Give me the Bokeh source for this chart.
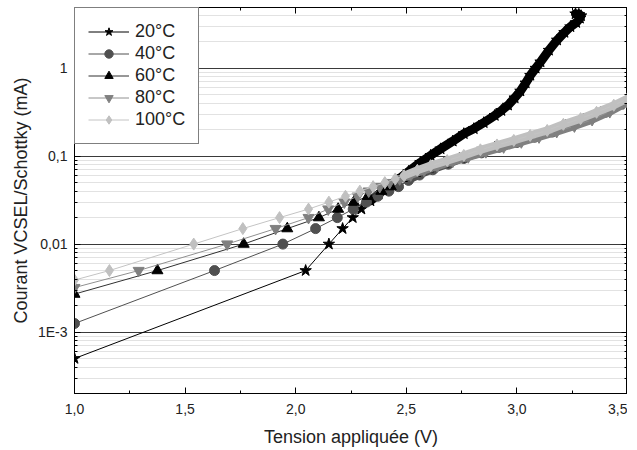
from bokeh.plotting import figure
from bokeh.models import FixedTicker, LinearAxis, LogAxis, Legend, LegendItem, Range1d
from bokeh.embed import file_html
from bokeh.resources import INLINE

# ---- data ----
V20 = [1.0, 2.045, 2.15, 2.212, 2.258, 2.297, 2.338, 2.375, 2.41, 2.459, 2.51, 2.564, 2.61, 2.655,
       2.71, 2.76, 2.805, 2.85, 2.9, 2.93, 2.96, 2.99, 3.016, 3.04, 3.061, 3.085, 3.107, 3.145,
       3.182, 3.215, 3.242, 3.268, 3.285, 3.29, 3.28, 3.265]
I20 = [5e-4, 0.005, 0.01, 0.015, 0.02, 0.025, 0.031, 0.037, 0.044, 0.053, 0.067, 0.085, 0.102, 0.121,
       0.148, 0.18, 0.205, 0.24, 0.29, 0.33, 0.38, 0.46, 0.55, 0.68, 0.83, 1.0, 1.18, 1.6,
       2.09, 2.55, 2.96, 3.3, 3.7, 3.95, 4.1, 4.15]

V40 = [1.0, 1.633, 1.942, 2.09, 2.188, 2.26, 2.32, 2.371, 2.421, 2.465, 2.51, 2.56, 2.62, 2.69,
       2.76, 2.84, 2.92, 3.0, 3.08, 3.16, 3.24, 3.32, 3.4, 3.5]
I40 = [0.00125, 0.005, 0.01, 0.015, 0.02, 0.025, 0.03, 0.035, 0.04, 0.045, 0.053, 0.061, 0.07, 0.081,
       0.094, 0.109, 0.126, 0.143, 0.164, 0.188, 0.222, 0.262, 0.315, 0.42]

V60 = [1.0, 1.375, 1.765, 1.962, 2.105, 2.192, 2.263, 2.326, 2.387, 2.43, 2.48, 2.54, 2.6, 2.67,
       2.74, 2.82, 2.9, 2.98, 3.06, 3.14, 3.22, 3.3, 3.38, 3.46, 3.5]
I60 = [0.0027, 0.005, 0.01, 0.015, 0.02, 0.025, 0.03, 0.035, 0.04, 0.045, 0.056, 0.064, 0.072, 0.082,
       0.093, 0.108, 0.125, 0.142, 0.162, 0.186, 0.22, 0.258, 0.31, 0.375, 0.42]

V80 = [1.0, 1.29, 1.69, 1.909, 2.058, 2.147, 2.22, 2.28, 2.33, 2.38, 2.425, 2.47, 2.52, 2.58,
       2.64, 2.71, 2.78, 2.86, 2.94, 3.02, 3.1, 3.18, 3.26, 3.34, 3.42, 3.5]
I80 = [0.0032, 0.005, 0.01, 0.015, 0.02, 0.025, 0.03, 0.035, 0.04, 0.045, 0.05, 0.055, 0.061, 0.069,
       0.077, 0.087, 0.098, 0.112, 0.127, 0.145, 0.165, 0.19, 0.22, 0.26, 0.32, 0.41]

V100 = [1.0, 1.158, 1.539, 1.761, 1.927, 2.058, 2.15, 2.225, 2.29, 2.35, 2.403, 2.45, 2.49, 2.55,
        2.61, 2.685, 2.76, 2.835, 2.91, 2.986, 3.06, 3.137, 3.21, 3.288, 3.36, 3.438, 3.5]
I100 = [0.0039, 0.005, 0.01, 0.015, 0.02, 0.025, 0.03, 0.035, 0.04, 0.045, 0.05, 0.055, 0.06, 0.069,
        0.078, 0.089, 0.102, 0.118, 0.134, 0.151, 0.172, 0.196, 0.23, 0.267, 0.315, 0.379, 0.45]

LABELS = ["20°C", "40°C", "60°C", "80°C", "100°C"]

X_TICKS = [1.0, 1.5, 2.0, 2.5, 3.0, 3.5]
X_TICK_LABELS = ["1,0", "1,5", "2,0", "2,5", "3,0", "3,5"]
Y_TICKS = [0.001, 0.01, 0.1, 1]
Y_TICK_LABELS = ["1E-3", "0,01", "0,1", "1"]

# ---- styling ----
FONT = "Liberation Sans"
STYLE = [
    # marker, size, marker color, line color, index where the dense band starts, band width
    ("star", 12, "#000000", "#000000", 6, 9),
    ("circle", 10, "#505050", "#505050", 10, 7),
    ("triangle", 11, "#000000", "#303030", 10, 7),
    ("inverted_triangle", 11, "#808080", "#909090", 11, 8),
    ("diamond", 12, "#c0c0c0", "#c4c4c4", 12, 8),
]
SERIES = [(V20, I20), (V40, I40), (V60, I60), (V80, I80), (V100, I100)]

p = figure(width=627, height=450, x_range=Range1d(1.0, 3.5), y_range=Range1d(2e-4, 4.9),
           y_axis_type="log", output_backend="svg", toolbar_location=None,
           min_border_left=74, min_border_right=0, min_border_top=7, min_border_bottom=57,
           background_fill_color="white", border_fill_color="white")
p.outline_line_color = "black"
p.outline_line_width = 1

x_ticker = FixedTicker(ticks=X_TICKS,
                       minor_ticks=[(a + b) / 2 for a, b in zip(X_TICKS[:-1], X_TICKS[1:])])
y_minor = [m * 10.0 ** e for e in range(-4, 1) for m in range(2, 10)]
y_ticker = FixedTicker(ticks=Y_TICKS, minor_ticks=[v for v in y_minor if 2e-4 <= v <= 5])

xa = p.xaxis[0]
xa.ticker = x_ticker
xa.major_label_overrides = dict(zip(X_TICKS, X_TICK_LABELS))
xa.axis_label = "Tension appliquée (V)"
ya = p.yaxis[0]
ya.ticker = y_ticker
ya.major_label_overrides = dict(zip(Y_TICKS, Y_TICK_LABELS))
ya.axis_label = "Courant VCSEL/Schottky (mA)"

for ax in (xa, ya):
    ax.major_tick_in = 6
    ax.major_tick_out = 0
    ax.minor_tick_in = 3
    ax.minor_tick_out = 0
    ax.axis_line_color = "black"
    ax.major_tick_line_color = "black"
    ax.minor_tick_line_color = "black"
    ax.major_label_text_font = FONT
    ax.major_label_text_font_size = "14px"
    ax.major_label_text_color = "#222222"
    ax.axis_label_text_font = FONT
    ax.axis_label_text_font_size = "18px"
    ax.axis_label_text_font_style = "normal"
    ax.axis_label_text_color = "#222222"
xa.major_label_standoff = 10
xa.axis_label_standoff = 10
ya.major_label_standoff = 7
ya.axis_label_standoff = 4

top = LinearAxis(ticker=x_ticker)
right = LogAxis(ticker=y_ticker)
for ax in (top, right):
    ax.major_tick_in = 6
    ax.major_tick_out = 0
    ax.minor_tick_in = 3
    ax.minor_tick_out = 0
    ax.major_label_text_font_size = "1px"
    ax.major_label_text_alpha = 0
    ax.major_label_standoff = 0
    ax.axis_line_color = "black"
p.add_layout(top, "above")
p.add_layout(right, "right")

p.xgrid.grid_line_color = None
p.ygrid.grid_line_color = "#3a3a3a"
p.ygrid.grid_line_width = 1
p.ygrid.minor_grid_line_color = "#c4c4c4"
p.ygrid.minor_grid_line_dash = "1 1"

items = []
for label, (vs, cs), (marker, size, mcol, lcol, k, bw) in zip(LABELS, SERIES, STYLE):
    p.line(vs[k:], cs[k:], line_color=mcol, line_width=bw, line_join="round", line_cap="round")
    ln = p.line(vs, cs, line_color=lcol, line_width=1)
    sc = p.scatter(vs, cs, marker=marker, size=size, fill_color=mcol, line_color=mcol)
    items.append(LegendItem(label=label, renderers=[ln, sc]))

legend = Legend(items=items, location="top_left", margin=0, padding=13, spacing=1,
                glyph_height=21, glyph_width=41, label_height=21, label_width=50,
                label_standoff=6, label_text_font=FONT, label_text_font_size="18px",
                label_text_color="#222222",
                border_line_color="black", border_line_width=1, background_fill_alpha=1)
p.add_layout(legend, "center")

open("out.html", "w").write(file_html(p, INLINE))
